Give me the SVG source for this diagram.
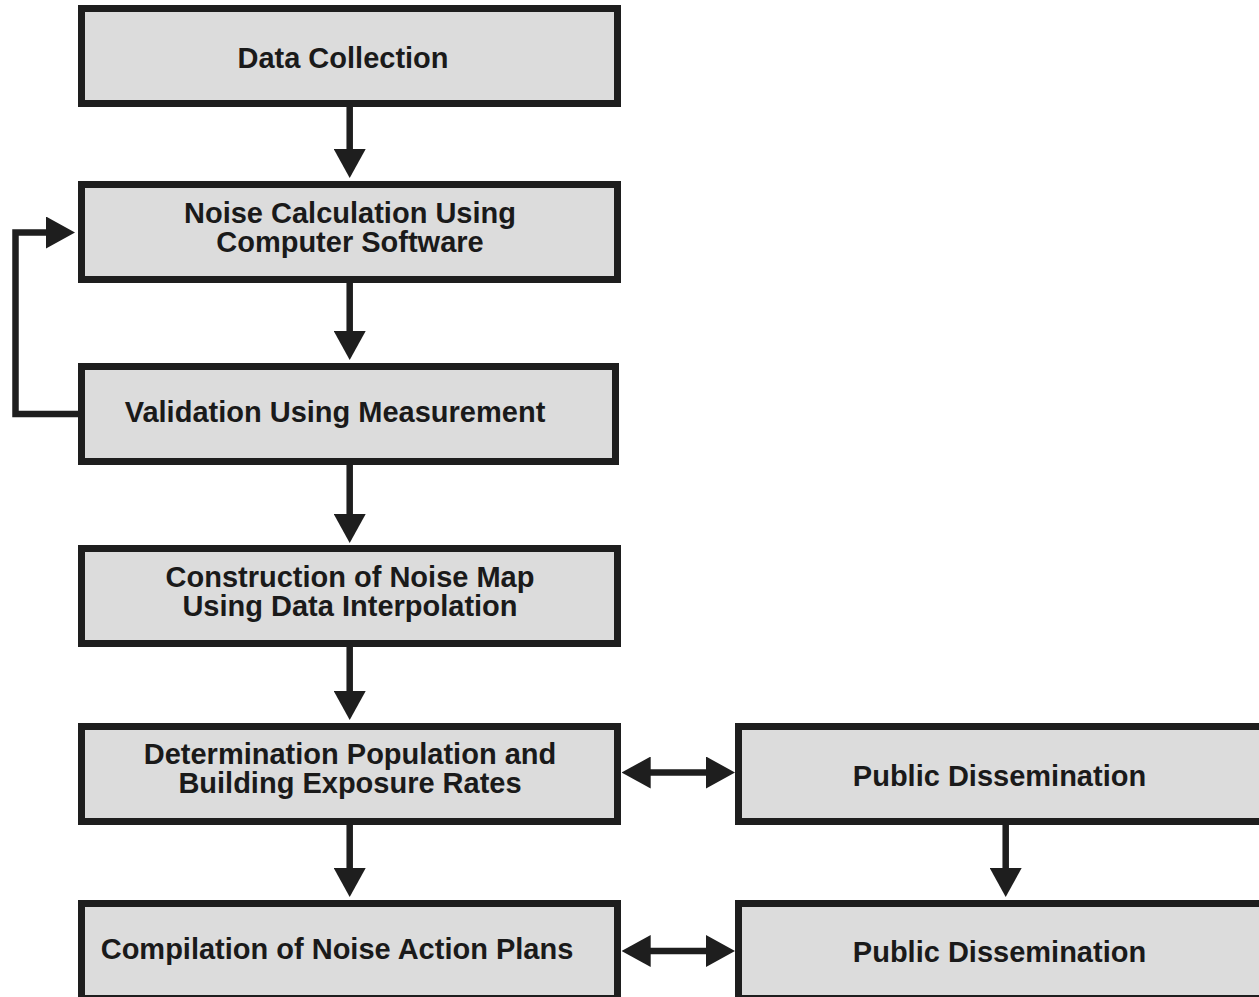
<svg xmlns="http://www.w3.org/2000/svg" width="1259" height="997" viewBox="0 0 1259 997">
<style>
.box{fill:#dcdcdc;stroke:#1e1e1e;stroke-width:7}
.t{font-family:"Liberation Sans",Arial,sans-serif;font-weight:bold;font-size:29px;fill:#1a1a1a;text-anchor:middle}
.c{fill:none;stroke:#1e1e1e;stroke-width:6.5;stroke-linejoin:miter}
</style>
<defs>
<marker id="ah" markerUnits="userSpaceOnUse" markerWidth="29" markerHeight="32" viewBox="0 0 29 32" refX="2" refY="16" orient="auto-start-reverse">
<path d="M0,0 L29,16 L0,32 Z" fill="#1e1e1e"/>
</marker>
</defs>
<rect width="1259" height="997" fill="#ffffff"/>
<g id="connectors">
<line class="c" x1="349.7" y1="107" x2="349.7" y2="151" marker-end="url(#ah)"/>
<line class="c" x1="349.7" y1="283" x2="349.7" y2="333" marker-end="url(#ah)"/>
<line class="c" x1="349.7" y1="465" x2="349.7" y2="516" marker-end="url(#ah)"/>
<line class="c" x1="349.7" y1="647" x2="349.7" y2="693" marker-end="url(#ah)"/>
<line class="c" x1="349.7" y1="825" x2="349.7" y2="870" marker-end="url(#ah)"/>
<line class="c" x1="1005.7" y1="825" x2="1005.7" y2="870" marker-end="url(#ah)"/>
<path class="c" d="M78,414 H15.5 V232.5 H48" marker-end="url(#ah)"/>
<line class="c" x1="648.7" y1="772.5" x2="708" y2="772.5" marker-start="url(#ah)" marker-end="url(#ah)"/>
<line class="c" x1="648.7" y1="951" x2="708" y2="951" marker-start="url(#ah)" marker-end="url(#ah)"/>
</g>
<g id="n1"><rect class="box" x="81.5" y="8.5" width="536" height="95"/><text class="t" x="343" y="68">Data Collection</text></g>
<g id="n2"><rect class="box" x="81.5" y="184.5" width="536" height="95"/><text class="t" x="350" y="223">Noise Calculation Using</text><text class="t" x="350" y="252">Computer Software</text></g>
<g id="n3"><rect class="box" x="81.5" y="366.5" width="534" height="95"/><text class="t" x="335" y="422">Validation Using Measurement</text></g>
<g id="n4"><rect class="box" x="81.5" y="548.5" width="536" height="95"/><text class="t" x="350" y="587">Construction of Noise Map</text><text class="t" x="350" y="616">Using Data Interpolation</text></g>
<g id="n5"><rect class="box" x="81.5" y="726.5" width="536" height="95"/><text class="t" x="350" y="764">Determination Population and</text><text class="t" x="350" y="793">Building Exposure Rates</text></g>
<g id="n6"><rect class="box" x="738.5" y="726.5" width="540" height="95"/><text class="t" x="999.5" y="786">Public Dissemination</text></g>
<g id="n7"><rect class="box" x="81.5" y="903.5" width="536" height="95"/><text class="t" x="337" y="959">Compilation of Noise Action Plans</text></g>
<g id="n8"><rect class="box" x="738.5" y="903.5" width="540" height="95"/><text class="t" x="999.5" y="962">Public Dissemination</text></g>
</svg>
